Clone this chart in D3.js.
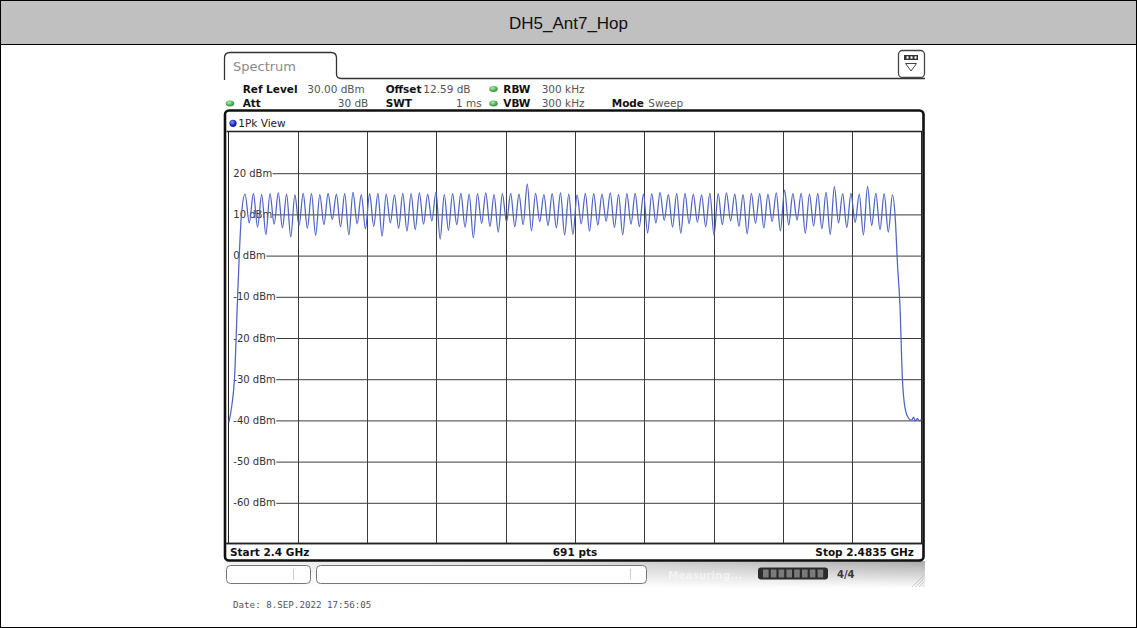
<!DOCTYPE html>
<html><head><meta charset="utf-8">
<script src="https://cdn.jsdelivr.net/npm/d3@7"></script>
<style>
html,body{margin:0;padding:0;background:#fff;}
svg{display:block;}
</style></head>
<body>
<svg id="c" width="1137" height="628"></svg>
<script>
// ---------------- DATA ----------------
const title = "DH5_Ant7_Hop";
const freqStart = 2400, freqStop = 2483.5;       // MHz
const refLevel = 30, dbPerDiv = 10, yDivs = 10, xDivs = 10;
const yTickValues = [20, 10, 0, -10, -20, -30, -40, -50, -60];
const yTickLabels = ["20 dBm","10 dBm","0 dBm","-10 dBm","-20 dBm","-30 dBm","-40 dBm","-50 dBm","-60 dBm"];
const firstChannel = 2402, channelStep = 1;       // MHz
// peak level of each hopping channel (79 channels), dBm
const peaks = [14.8,15.0,14.7,14.9,15.1,14.8,14.6,15.0,14.9,14.7,
               15.0,14.8,14.9,15.2,14.7,14.9,15.0,14.8,14.6,15.0,
               14.9,15.1,14.8,15.3,14.7,14.9,15.0,14.8,14.9,15.1,
               14.7,14.9,15.0,14.8,17.2,15.0,14.7,14.9,15.1,14.8,
               14.6,15.0,14.9,14.8,15.1,14.7,14.9,15.0,14.8,14.9,
               15.2,14.7,14.9,15.0,14.8,14.6,15.0,14.9,15.1,14.8,
               14.7,15.0,14.9,14.8,15.1,15.8,14.9,15.0,14.8,14.9,
               15.2,16.6,14.9,15.0,14.8,16.7,15.0,14.9,14.6];
// minimum level between adjacent channels (78 gaps), dBm
const dips = [7.8,6.8,5.0,7.5,6.6,4.4,7.2,6.5,4.8,7.4,
              8.6,6.9,4.9,7.6,6.4,7.0,4.6,7.8,6.5,5.8,
              6.2,7.5,8.3,3.9,6.0,7.4,6.8,4.2,7.7,7.0,
              5.6,8.0,6.9,7.4,5.9,8.1,7.2,6.6,4.9,5.0,
              7.6,5.8,7.3,8.2,6.7,4.9,7.5,6.9,5.4,7.8,
              8.4,6.8,5.3,7.6,8.0,6.9,4.8,7.4,8.3,7.0,
              5.2,7.7,6.6,8.1,5.9,7.3,8.5,5.3,7.1,6.4,
              5.0,7.8,6.7,7.9,4.9,7.2,6.2,5.6];
// band-edge skirts [MHz, dBm]
const lowerSkirt = [[2400.05,-40.6],[2400.4,-36.5],[2400.72,-30],[2401.1,-10],[2401.3,0],[2401.55,9.5]];
const upperSkirt = [[2480.35,8.5],[2480.6,-2],[2480.9,-12],[2481.2,-30],[2481.55,-37.5],[2481.95,-39.6],
                    [2482.3,-40.1],[2482.55,-39.3],[2482.75,-40.3],[2483.0,-39.6],[2483.2,-40.2],[2483.5,-40.0]];
const headerRow1 = [["Ref Level","30.00 dBm"],["Offset","12.59 dB"],["RBW","300 kHz"]];
const headerRow2 = [["Att","30 dB"],["SWT","1 ms"],["VBW","300 kHz"],["Mode","Sweep"]];
const footer = {start:"Start 2.4 GHz", pts:"691 pts", stop:"Stop 2.4835 GHz"};
const dateText = "Date: 8.SEP.2022  17:56:05";

// ---------------- LAYOUT ----------------
const W = 1137, H = 628;
const gx0 = 228.5, gx1 = 921.5, gy0 = 131.5, gy1 = 543.5;
const svg = d3.select("#c");
const F = "'DejaVu Sans', Verdana, sans-serif";

const x = d3.scaleLinear().domain([freqStart, freqStop]).range([gx0, gx1]);
const y = d3.scaleLinear().domain([refLevel - dbPerDiv*yDivs, refLevel]).range([gy1, gy0]);

// page frame + title bar
svg.append("rect").attr("x",0.5).attr("y",0.5).attr("width",W-1).attr("height",H-1)
   .attr("fill","#fff").attr("stroke","#000");
svg.append("rect").attr("x",0.5).attr("y",0.5).attr("width",W-1).attr("height",44)
   .attr("fill","#c0c0c0").attr("stroke","#000");
svg.append("text").attr("x",W/2).attr("y",29).attr("text-anchor","middle")
   .attr("font-family","'Liberation Sans', Arial, sans-serif").attr("font-size",17)
   .attr("fill","#111").text(title);

// Spectrum tab
svg.append("path")
   .attr("d","M224.5,80 L224.5,58 Q224.5,52.5 230,52.5 L331,52.5 Q336.5,52.5 336.5,58 L336.5,74 Q336.5,78.5 341,78.5 L925,78.5")
   .attr("fill","none").attr("stroke","#333").attr("stroke-width",1.3);
svg.append("text").attr("x",233).attr("y",71).attr("font-family",F).attr("font-size",13)
   .attr("fill","#8a8a8a").text("Spectrum");
// top-right icon
const ic = svg.append("g");
ic.append("rect").attr("x",898.5).attr("y",50.5).attr("width",26).attr("height",27).attr("rx",4)
  .attr("fill","#fff").attr("stroke","#444").attr("stroke-width",1.3);
ic.append("rect").attr("x",904).attr("y",55).attr("width",14).attr("height",5).attr("fill","#333");
[906.5,910.5,914.5].forEach(v=>ic.append("rect").attr("x",v).attr("y",56.3).attr("width",2).attr("height",2.4).attr("fill","#fff"));
ic.append("path").attr("d","M905.5,63.5 L916.5,63.5 L911,71 Z").attr("fill","none").attr("stroke","#444").attr("stroke-width",1);

// header parameter text
function hdr(label, lx, val, vx, yy, anchorEnd){
  svg.append("text").attr("x",lx).attr("y",yy).attr("font-family",F).attr("font-size",10.5)
     .attr("font-weight","bold").attr("fill","#111").text(label);
  svg.append("text").attr("x",vx).attr("y",yy).attr("font-family",F).attr("font-size",10.5)
     .attr("fill","#555").attr("text-anchor",anchorEnd?"end":"start").text(val);
}
const r1 = 92.5, r2 = 107;
hdr(headerRow1[0][0],242.7,headerRow1[0][1],307.3,r1,false);
hdr(headerRow1[1][0],385.7,headerRow1[1][1],423.3,r1,false);
hdr(headerRow1[2][0],503.3,headerRow1[2][1],541.7,r1,false);
hdr(headerRow2[0][0],242.7,headerRow2[0][1],368.3,r2,true);
hdr(headerRow2[1][0],385.7,headerRow2[1][1],481.7,r2,true);
hdr(headerRow2[2][0],503.3,headerRow2[2][1],541.7,r2,false);
hdr(headerRow2[3][0],611.7,headerRow2[3][1],648.3,r2,false);
const gdef = svg.append("defs");
const gg = gdef.append("radialGradient").attr("id","gdot").attr("cx","40%").attr("cy","35%");
gg.append("stop").attr("offset","0%").attr("stop-color","#b6ecb0");
gg.append("stop").attr("offset","100%").attr("stop-color","#3fa14a");
const bg = gdef.append("radialGradient").attr("id","bdot").attr("cx","40%").attr("cy","35%");
bg.append("stop").attr("offset","0%").attr("stop-color","#7f8cff");
bg.append("stop").attr("offset","100%").attr("stop-color","#1020b0");
[[493.5,89],[493.5,103.5],[230,103.5]].forEach(p=>
  svg.append("ellipse").attr("cx",p[0]).attr("cy",p[1]).attr("rx",4.3).attr("ry",3).attr("fill","url(#gdot)"));

// lower gradient status band
const lg = gdef.append("linearGradient").attr("id","band").attr("x1",0).attr("y1",0).attr("x2",0).attr("y2",1);
lg.append("stop").attr("offset","0%").attr("stop-color","#a9a9a9");
lg.append("stop").attr("offset","100%").attr("stop-color","#ffffff");
const lg2 = gdef.append("linearGradient").attr("id","bandx").attr("x1",0).attr("y1",0).attr("x2",1).attr("y2",0);
lg2.append("stop").attr("offset","0%").attr("stop-color","#fff").attr("stop-opacity",0.85);
lg2.append("stop").attr("offset","45%").attr("stop-color","#fff").attr("stop-opacity",0.6);
lg2.append("stop").attr("offset","100%").attr("stop-color","#fff").attr("stop-opacity",0);
svg.append("rect").attr("x",224).attr("y",561).attr("width",701).attr("height",27).attr("fill","url(#band)");
svg.append("rect").attr("x",224).attr("y",561).attr("width",701).attr("height",27).attr("fill","url(#bandx)");
// buttons
svg.append("rect").attr("x",226.5).attr("y",565.5).attr("width",84).attr("height",18).attr("rx",4)
   .attr("fill","#fff").attr("stroke","#777");
svg.append("line").attr("x1",293.5).attr("x2",293.5).attr("y1",569).attr("y2",580).attr("stroke","#ccc");
svg.append("rect").attr("x",316.5).attr("y",565.5).attr("width",330).attr("height",18).attr("rx",4)
   .attr("fill","#fff").attr("stroke","#777");
svg.append("line").attr("x1",630.5).attr("x2",630.5).attr("y1",569).attr("y2",580).attr("stroke","#ccc");
svg.append("text").attr("x",668).attr("y",579).attr("font-family",F).attr("font-size",10.5)
   .attr("font-weight","bold").attr("fill","#fff").attr("fill-opacity",0.55).text("Measuring...");
svg.append("rect").attr("x",758).attr("y",567.5).attr("width",70).attr("height",12).attr("rx",3).attr("fill","#2b2b2b");
d3.range(8).forEach(i=>svg.append("rect").attr("x",763+i*7.8).attr("y",569.5).attr("width",5.6).attr("height",8).attr("fill","#7a7a7a"));
svg.append("text").attr("x",837).attr("y",578).attr("font-family",F).attr("font-size",10)
   .attr("font-weight","bold").attr("fill","#3a3a3a").text("4/4");
d3.range(4).forEach(i=>svg.append("line").attr("x1",912+i*3.5).attr("y1",587).attr("x2",924).attr("y2",575+i*3.5)
   .attr("stroke","#bbb").attr("stroke-width",0.8));

// main frame
svg.append("rect").attr("x",225).attr("y",110.5).attr("width",698.5).attr("height",450).attr("rx",4)
   .attr("fill","#fff").attr("stroke","#111").attr("stroke-width",2.6);
svg.append("circle").attr("cx",233).attr("cy",123.3).attr("r",3.6).attr("fill","url(#bdot)");
svg.append("text").attr("x",238.3).attr("y",127).attr("font-family",F).attr("font-size",10.5)
   .attr("fill","#222").text("1Pk View");

// grid
const grid = svg.append("g");
const vt = d3.range(xDivs+1).map(i => freqStart + i*(freqStop-freqStart)/xDivs);
grid.selectAll("line.v").data(vt.slice(1,-1)).join("line")
  .attr("x1",d=>Math.round(x(d))+0.5).attr("x2",d=>Math.round(x(d))+0.5)
  .attr("y1",gy0).attr("y2",gy1).attr("stroke","#3c3c3c").attr("stroke-width",1);
// border lines of grid
grid.append("line").attr("x1",gx0-2).attr("x2",gx1+1).attr("y1",gy0).attr("y2",gy0).attr("stroke","#222").attr("stroke-width",1.4);
grid.append("line").attr("x1",gx0-2).attr("x2",gx1+1).attr("y1",gy1).attr("y2",gy1).attr("stroke","#222").attr("stroke-width",1.4);
grid.append("line").attr("x1",gx0).attr("x2",gx0).attr("y1",gy0).attr("y2",gy1).attr("stroke","#222").attr("stroke-width",1);
grid.append("line").attr("x1",gx1).attr("x2",gx1).attr("y1",gy0).attr("y2",gy1).attr("stroke","#222").attr("stroke-width",1);

const yAxis = d3.axisLeft(y).tickValues(yTickValues).tickFormat((d,i)=>yTickLabels[i]).tickSize(0);
const ya = svg.append("g").attr("transform",`translate(${gx0},0)`).call(yAxis);
ya.select(".domain").remove();
ya.selectAll("text").attr("text-anchor","start").attr("x",4.8).attr("dy","0.35em")
  .attr("font-family",F).attr("font-size",10).attr("fill","#333");
ya.selectAll(".tick").each(function(d){
  const t = d3.select(this).select("text");
  const w = t.node().getComputedTextLength();
  d3.select(this).insert("line","text").attr("x1",4.8+w+0.5).attr("x2",gx1-gx0).attr("y1",0.5).attr("y2",0.5)
    .attr("stroke","#3c3c3c").attr("stroke-width",1);
});

// trace
const pts = lowerSkirt.slice();
peaks.forEach((p,i)=>{
  pts.push([firstChannel + i*channelStep, p]);
  if(i < dips.length) pts.push([firstChannel + (i+0.5)*channelStep, dips[i]]);
});
upperSkirt.forEach(p=>pts.push(p));
const line = d3.line().x(d=>x(d[0])).y(d=>y(d[1])).curve(d3.curveMonotoneX);
svg.append("path").datum(pts).attr("d",line).attr("fill","none")
   .attr("stroke","#4f63c4").attr("stroke-width",1.25).attr("stroke-linejoin","round");

// footer in frame
svg.append("line").attr("x1",225).attr("x2",923).attr("y1",gy1).attr("y2",gy1).attr("stroke","#222").attr("stroke-width",1.4);
svg.append("text").attr("x",230).attr("y",555.7).attr("font-family",F).attr("font-size",10.5)
   .attr("font-weight","bold").attr("fill","#111").text(footer.start);
svg.append("text").attr("x",575).attr("y",555.7).attr("text-anchor","middle").attr("font-family",F).attr("font-size",10.5)
   .attr("font-weight","bold").attr("fill","#111").text(footer.pts);
svg.append("text").attr("x",914).attr("y",555.7).attr("text-anchor","end").attr("font-family",F).attr("font-size",10.5)
   .attr("font-weight","bold").attr("fill","#111").text(footer.stop);

// date
svg.append("text").attr("x",233).attr("y",608).attr("font-family","'DejaVu Sans Mono', monospace")
   .attr("font-size",9.2).attr("fill","#555").text(dateText);
</script>
</body></html>
